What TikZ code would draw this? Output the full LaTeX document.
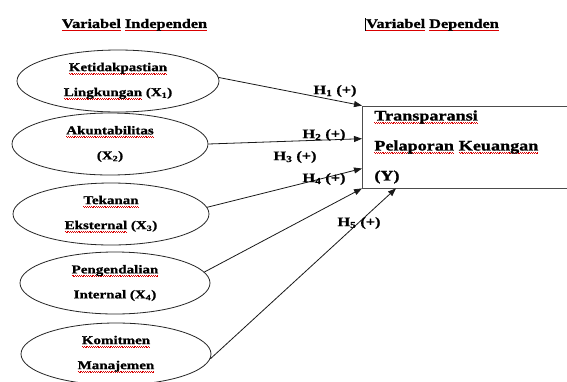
\documentclass[tikz,border=0pt]{standalone}
\usepackage{fontspec}
\setmainfont{Liberation Serif}[FakeStretch=1.25, BoldFeatures={FakeBold=1.2}]
\usetikzlibrary{shapes.geometric,arrows.meta,calc}
\newcommand\rw[1]{\leavevmode\setbox0\hbox{#1}\rlap{\textcolor{red!85!black}{\hbox to \wd0{\xleaders\hbox{\vrule height -1.7pt depth 2.4pt width 0.9pt\vrule height -2.4pt depth 3.1pt width 0.9pt}\hfill}}}\box0\relax}
\tikzset{
  ell/.style={ellipse, draw=black!85, line width=0.8pt, inner sep=0pt, align=center,
    minimum width=196pt, minimum height=62pt, font=\fontsize{12}{25}\selectfont\bfseries},
  hdr/.style={font=\fontsize{13}{15}\selectfont\bfseries, inner sep=0pt},
  hyp/.style={font=\fontsize{13}{15}\selectfont\bfseries, inner sep=0pt},
  link/.style={line width=0.8pt, black!90, -{Triangle[length=8pt,width=6pt]}},
  ybox/.style={draw=black!70, line width=0.8pt, rectangle, minimum height=82pt, text width=216pt,
    inner xsep=12pt, inner ysep=0pt, align=left, font=\fontsize{14.5}{30}\selectfont\bfseries}
}
\begin{document}
\begin{tikzpicture}[x=1pt,y=-1pt]
\useasboundingbox (0,0) rectangle (567,381);
\fill[white] (0,0) rectangle (567,381);
\node[hdr] (hind) at (134.5,25) {\rw{Variabel} \rw{Independen}};
\node[hdr] (hdep) at (432.5,25) {\rw{Variabel} \rw{Dependen}};
\draw[line width=0.6pt] ($(hdep.west)+(-1,-7)$) -- ($(hdep.west)+(-1,6)$);

\node[ell, minimum width=202pt] (e1) at (118,81) {\rw{Ketidakpastian}\\\rw{Lingkungan} (X\textsubscript{1})};
\node[ell] (e2) at (110,144) {\rw{Akuntabilitas}\\(X\textsubscript{2})};
\node[ell] (e3) at (111,214) {\rw{Tekanan}\\\rw{Eksternal} (X\textsubscript{3})};
\node[ell, minimum width=190pt] (e4) at (115,283) {\rw{Pengendalian}\\Internal (X\textsubscript{4})};
\node[ell, minimum width=190pt] (e5) at (116,354) {\rw{Komitmen}\\\rw{Manajemen}};

\node[ybox, anchor=west] (y) at (362,147) {\rw{Transparansi}\\\rw{Pelaporan} \rw{Keuangan}\\(Y)};

\coordinate (t2) at ($(y.north west)!0.40!(y.south west)$);
\coordinate (t3) at ($(y.north west)!0.76!(y.south west)$);
\coordinate (t5) at ($(y.south west)+(34,0)$);

\draw[link] (e1.2) -- (y.north west);
\draw[link] (e2.east) -- (t2);
\draw[link] (e3.4) -- (t3);
\draw[link] (e4.7) -- (y.south west);
\draw[link] (e5.-3) -- (t5);

\node[hyp] (h1) at (335,91) {H\textsubscript{1} (+)};
\node[hyp] (h2) at (324,135) {H\textsubscript{2} (+)};
\node[hyp] (h3) at (295,157) {H\textsubscript{3} (+)};
\node[hyp] (h4) at (324,179) {H\textsubscript{4} (+)};
\node[hyp] (h5) at (359,223) {H\textsubscript{5} (+)};
\end{tikzpicture}
\end{document}
